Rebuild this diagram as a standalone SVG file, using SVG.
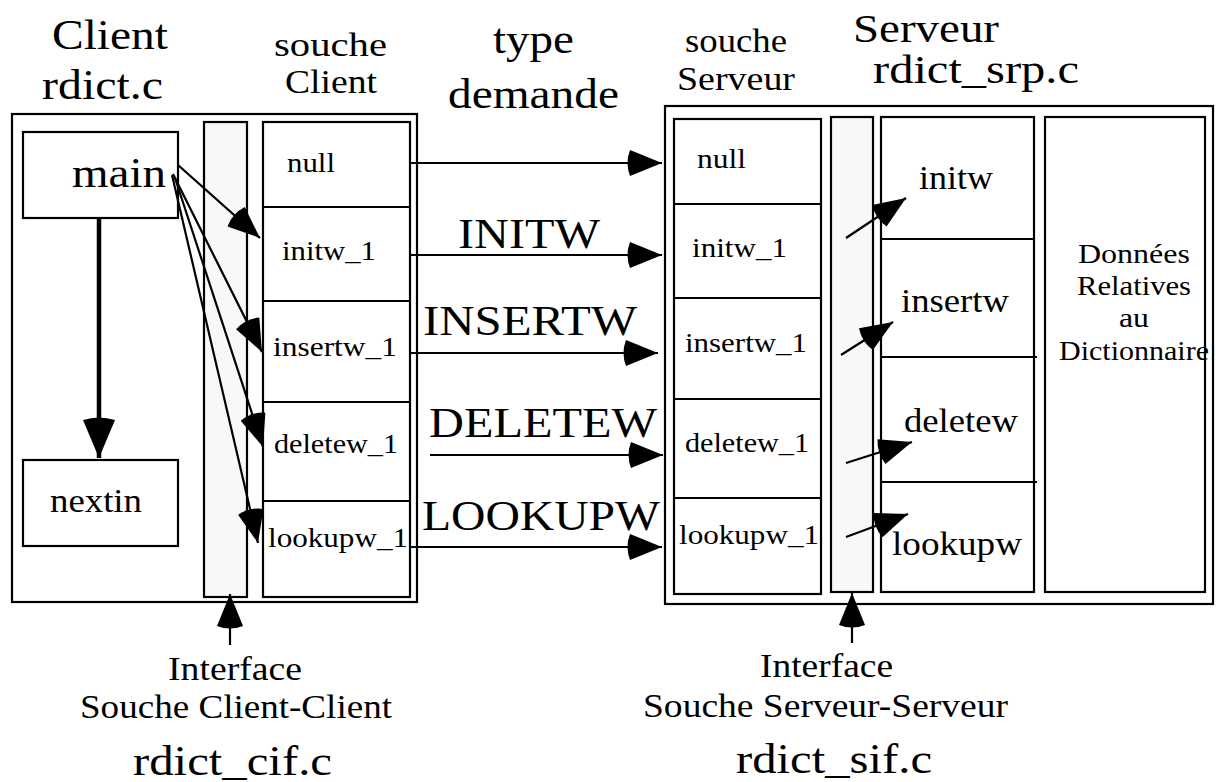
<svg xmlns="http://www.w3.org/2000/svg" width="1216" height="782" viewBox="0 0 1216 782" font-family="'Liberation Serif', 'Times New Roman', serif">
<style>
text{font-family:'Liberation Serif','Times New Roman',serif;fill:#000}
.box{fill:#fff;stroke:#000;stroke-width:2.2}
.bar{fill:#f8f8f8;stroke:#000;stroke-width:2.2}
.ln{stroke:#000;stroke-width:2.2;fill:none}
.ar{stroke:#000;stroke-width:2.2;fill:none;marker-end:url(#ah)}
.tT{font-size:43px}
.tT2{font-size:41px}
.tM{font-size:34px}
.tF{font-size:33px}
.tS{font-size:28px}
.tD{font-size:27px}
</style>
<defs>
<marker id="ah" viewBox="-5 -13 37 26" refX="32" refY="0" markerWidth="37" markerHeight="26" markerUnits="userSpaceOnUse" orient="auto">
<path d="M0,-13 L32,0 L0,13 Q-5,0 0,-13 Z"/>
</marker>
<marker id="ahb" viewBox="-5 -16 43 32" refX="38" refY="0" markerWidth="43" markerHeight="32" markerUnits="userSpaceOnUse" orient="auto">
<path d="M0,-16 L38,0 L0,16 Q-5,0 0,-16 Z"/>
</marker>
</defs>
<rect width="1216" height="782" fill="#fff"/>

<g id="titles">
<text class="tT" x="52" y="49" textLength="116" lengthAdjust="spacingAndGlyphs">Client</text>
<text class="tT" x="42" y="99" textLength="121" lengthAdjust="spacingAndGlyphs">rdict.c</text>
<text class="tM" x="274" y="56" textLength="113" lengthAdjust="spacingAndGlyphs">souche</text>
<text class="tM" x="285" y="93" textLength="92" lengthAdjust="spacingAndGlyphs">Client</text>
<text class="tT" x="493" y="53" textLength="81" lengthAdjust="spacingAndGlyphs">type</text>
<text class="tT" x="448" y="108" textLength="171" lengthAdjust="spacingAndGlyphs">demande</text>
<text class="tM" x="685" y="52" textLength="102" lengthAdjust="spacingAndGlyphs">souche</text>
<text class="tM" x="677" y="90" textLength="118" lengthAdjust="spacingAndGlyphs">Serveur</text>
<text class="tT2" x="853" y="42" textLength="146" lengthAdjust="spacingAndGlyphs">Serveur</text>
<text class="tT2" x="873" y="83" textLength="206" lengthAdjust="spacingAndGlyphs">rdict_srp.c</text>
</g>

<g id="client">
<rect class="box" x="12" y="114" width="405" height="488"/>
</g>
<g id="client-interface">
<rect class="bar" x="204" y="122" width="43" height="475"/>
</g>
<g id="main">
<rect class="box" x="23" y="132" width="155" height="86"/>
<text class="tT" x="72" y="187" textLength="94" lengthAdjust="spacingAndGlyphs">main</text>
</g>
<g id="nextin">
<rect class="box" x="23" y="460" width="155" height="86"/>
<text class="tM" x="50" y="512" textLength="92" lengthAdjust="spacingAndGlyphs">nextin</text>
</g>
<g id="client-stub">
<rect class="box" x="263" y="122" width="147" height="475"/>
<line class="ln" x1="263" y1="207" x2="410" y2="207"/>
<line class="ln" x1="263" y1="301" x2="410" y2="301"/>
<line class="ln" x1="263" y1="402" x2="410" y2="402"/>
<line class="ln" x1="263" y1="501" x2="410" y2="501"/>
<text class="tS" x="287" y="172" textLength="48" lengthAdjust="spacingAndGlyphs">null</text>
<text class="tS" x="282" y="260" textLength="94" lengthAdjust="spacingAndGlyphs">initw_1</text>
<text class="tS" x="273" y="356" textLength="124" lengthAdjust="spacingAndGlyphs">insertw_1</text>
<text class="tS" x="274" y="453" textLength="124" lengthAdjust="spacingAndGlyphs">deletew_1</text>
<text class="tS" x="268" y="547" textLength="140" lengthAdjust="spacingAndGlyphs">lookupw_1</text>
</g>

<g id="server">
<rect class="box" x="665" y="106" width="548" height="498"/>
</g>
<g id="server-stub">
<rect class="box" x="674" y="119" width="147" height="475"/>
<line class="ln" x1="674" y1="204" x2="821" y2="204"/>
<line class="ln" x1="674" y1="298" x2="821" y2="298"/>
<line class="ln" x1="674" y1="399" x2="821" y2="399"/>
<line class="ln" x1="674" y1="498" x2="821" y2="498"/>
<text class="tS" x="697" y="168" textLength="49" lengthAdjust="spacingAndGlyphs">null</text>
<text class="tS" x="692" y="257" textLength="95" lengthAdjust="spacingAndGlyphs">initw_1</text>
<text class="tS" x="685" y="352" textLength="122" lengthAdjust="spacingAndGlyphs">insertw_1</text>
<text class="tS" x="685" y="452" textLength="124" lengthAdjust="spacingAndGlyphs">deletew_1</text>
<text class="tS" x="679" y="544" textLength="140" lengthAdjust="spacingAndGlyphs">lookupw_1</text>
</g>
<g id="server-interface">
<rect class="bar" x="831" y="117" width="42" height="475"/>
</g>
<g id="server-functions">
<rect class="box" x="881" y="117" width="153" height="475"/>
<line class="ln" x1="881" y1="239" x2="1034" y2="239"/>
<line class="ln" x1="881" y1="357" x2="1037" y2="357"/>
<line class="ln" x1="881" y1="482" x2="1037" y2="482"/>
<text class="tF" x="919" y="189" textLength="74" lengthAdjust="spacingAndGlyphs">initw</text>
<text class="tF" x="901" y="312" textLength="108" lengthAdjust="spacingAndGlyphs">insertw</text>
<text class="tF" x="904" y="432" textLength="114" lengthAdjust="spacingAndGlyphs">deletew</text>
<text class="tF" x="892" y="555" textLength="130" lengthAdjust="spacingAndGlyphs">lookupw</text>
</g>
<g id="donnees">
<rect class="box" x="1045" y="117" width="160" height="475"/>
<text class="tD" x="1134" y="263" text-anchor="middle" textLength="112" lengthAdjust="spacingAndGlyphs">Données</text>
<text class="tD" x="1134" y="295" text-anchor="middle" textLength="114" lengthAdjust="spacingAndGlyphs">Relatives</text>
<text class="tD" x="1134" y="327" text-anchor="middle" textLength="30" lengthAdjust="spacingAndGlyphs">au</text>
<text class="tD" x="1134" y="360" text-anchor="middle" textLength="150" lengthAdjust="spacingAndGlyphs">Dictionnaire</text>
</g>

<g id="connectors">
<line x1="99" y1="218" x2="99" y2="458" stroke="#000" stroke-width="4.5" marker-end="url(#ahb)"/>
<line class="ar" x1="178" y1="165" x2="260" y2="238"/>
<line class="ar" x1="173" y1="174" x2="262" y2="352"/>
<line class="ar" x1="175" y1="178" x2="263" y2="447"/>
<line class="ar" x1="172" y1="175" x2="258" y2="543"/>
<line class="ar" x1="410" y1="163" x2="662" y2="163"/>
<line class="ar" x1="410" y1="255" x2="662" y2="255"/>
<line class="ar" x1="410" y1="353" x2="658" y2="353"/>
<line class="ar" x1="430" y1="455" x2="663" y2="455"/>
<line class="ar" x1="410" y1="547" x2="662" y2="547"/>
<line class="ar" x1="846" y1="238" x2="906" y2="198"/>
<line class="ar" x1="841" y1="355" x2="893" y2="322"/>
<line class="ar" x1="846" y1="463" x2="912" y2="442"/>
<line class="ar" x1="846" y1="537" x2="908" y2="514"/>
<line class="ar" x1="230" y1="645" x2="230" y2="594"/>
<line class="ar" x1="852" y1="643" x2="852" y2="593"/>
</g>
<g id="labels">
<text class="tT" x="458" y="248" textLength="142" lengthAdjust="spacingAndGlyphs">INITW</text>
<text class="tT" x="423" y="335" textLength="214" lengthAdjust="spacingAndGlyphs">INSERTW</text>
<text class="tT" x="429" y="437" textLength="228" lengthAdjust="spacingAndGlyphs">DELETEW</text>
<text class="tT" x="422" y="530" textLength="238" lengthAdjust="spacingAndGlyphs">LOOKUPW</text>
<text class="tM" x="168" y="680" textLength="134" lengthAdjust="spacingAndGlyphs">Interface</text>
<text class="tM" x="80" y="718" textLength="312" lengthAdjust="spacingAndGlyphs">Souche Client-Client</text>
<text class="tT" x="133" y="775" textLength="199" lengthAdjust="spacingAndGlyphs">rdict_cif.c</text>
<text class="tM" x="760" y="677" textLength="133" lengthAdjust="spacingAndGlyphs">Interface</text>
<text class="tM" x="643" y="717" textLength="365" lengthAdjust="spacingAndGlyphs">Souche Serveur-Serveur</text>
<text class="tT" x="736" y="773" textLength="196" lengthAdjust="spacingAndGlyphs">rdict_sif.c</text>
</g>
</svg>
